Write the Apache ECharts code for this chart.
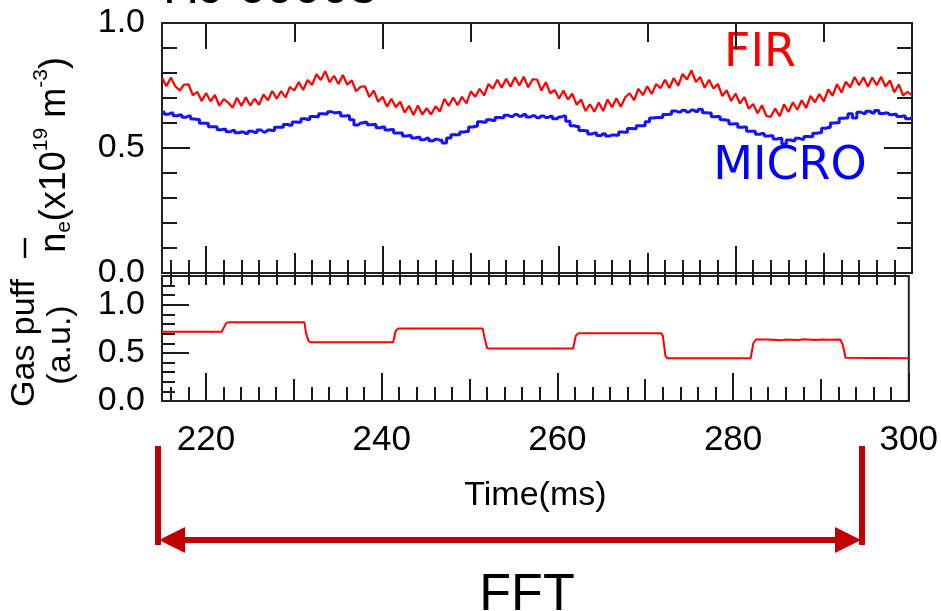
<!DOCTYPE html>
<html><head><meta charset="utf-8">
<script src="https://cdn.jsdelivr.net/npm/echarts@6/dist/echarts.min.js"></script>
<style>html,body{margin:0;padding:0;background:#fff}#c{width:941px;height:611px}</style>
</head><body><div id="c"></div>
<script>
// ---- data ----
const T0 = 215, DT = 0.5;           // sampling of the density traces (ms)
const FIR = [
.782,.747,.782,.747,.730,.753,.755,.711,.725,.688,
.720,.687,.712,.669,.696,.682,.661,.701,.668,.703,
.670,.697,.673,.714,.691,.728,.697,.728,.702,.744,
.730,.764,.732,.772,.752,.795,.772,.807,.763,.789,
.756,.792,.753,.771,.727,.745,.747,.704,.730,.685,
.705,.665,.697,.663,.685,.642,.669,.632,.670,.634,
.659,.634,.667,.646,.697,.668,.702,.671,.705,.678,
.727,.705,.737,.710,.756,.737,.773,.741,.777,.745,
.784,.750,.785,.743,.775,.774,.730,.763,.719,.732,
.698,.730,.694,.717,.673,.694,.648,.675,.645,.682,
.648,.694,.663,.699,.665,.703,.719,.691,.737,.711,
.747,.716,.756,.739,.773,.740,.780,.749,.796,.774,
.810,.764,.784,.741,.773,.738,.756,.708,.731,.688,
.718,.678,.704,.657,.676,.639,.671,.628,.625,.658,
.627,.674,.644,.683,.653,.691,.660,.708,.683,.716,
.686,.734,.709,.755,.722,.765,.743,.784,.751,.783,
.745,.782,.751,.785,.746,.770,.723,.754,.710,.725,
.710];
const MICRO = [
.644,.635,.640,.629,.632,.623,.628,.616,.614,.599,
.599,.585,.585,.573,.575,.565,.570,.561,.564,.558,
.567,.562,.572,.564,.572,.570,.583,.583,.594,.591,
.604,.603,.617,.614,.626,.625,.637,.636,.645,.641,
.642,.628,.629,.613,.592,.600,.603,.593,.594,.581,
.584,.572,.574,.560,.560,.548,.550,.540,.543,.533,
.539,.529,.535,.531,.520,.540,.553,.553,.564,.566,
.584,.587,.605,.603,.613,.610,.622,.621,.631,.626,
.634,.627,.634,.624,.629,.621,.628,.622,.627,.617,
.624,.628,.607,.589,.586,.570,.569,.556,.560,.550,
.557,.548,.552,.551,.564,.563,.578,.577,.589,.589,
.605,.620,.622,.622,.634,.635,.648,.644,.651,.644,
.652,.646,.655,.641,.640,.625,.626,.613,.611,.596,
.597,.583,.584,.567,.567,.555,.558,.548,.549,.536,
.539,.516,.532,.529,.539,.535,.546,.545,.559,.561,
.579,.582,.600,.601,.619,.620,.637,.620,.643,.638,
.647,.640,.650,.638,.640,.633,.635,.626,.628,.617,
.622];
const gasTime  = [215, 221.8, 222.3, 222.6, 228.9, 229.1, 229.3, 231.2, 231.4, 231.7, 232.0, 241.3, 241.6, 241.9, 251.5, 251.7, 252.0, 252.3, 261.8, 262.1, 262.4, 271.8, 272.0, 272.3, 272.5, 282.0, 282.3, 282.6, 284.0, 285.5, 286.0, 287.5, 288.0, 289.5, 290.0, 291.0, 292.2, 292.5, 292.8, 293.0, 300];
const gasValue = [0.72, 0.72, 0.81, 0.82, 0.82, 0.805, 0.82, 0.82, 0.70, 0.62, 0.61, 0.61, 0.73, 0.755, 0.755, 0.66, 0.55, 0.545, 0.545, 0.68, 0.705, 0.705, 0.68, 0.47, 0.445, 0.445, 0.60, 0.64, 0.64, 0.633, 0.64, 0.635, 0.641, 0.634, 0.64, 0.636, 0.64, 0.58, 0.45, 0.445, 0.445];

const xMajorTicks = [220, 240, 260, 280, 300];
const xMidTicks   = [230, 250, 270, 290];
const xMinorTicks = [216,218,220,222,224,226,228,230,232,234,236,238,240,242,244,246,248,250,252,254,256,258,260,262,264,266,268,270,272,274,276,278,280,282,284,286,288,290,292,294,296,298];
const xLabels     = [220, 240, 260, 280, 300];
const nMinorTicks = [0.1,0.2,0.3,0.4,0.6,0.7,0.8,0.9];
const nMajorTicks = [0.5];
const nLabels     = [0, 0.5, 1.0];
const gMinorTicks = [0.1,0.2,0.3,0.4,0.6,0.7,0.8,0.9,1.1,1.2];
const gMajorTicks = [0.5, 1.0];
const gLabels     = [0, 0.5, 1.0];

// ---- chart ----
const FONT = '"Liberation Sans Narrow","Liberation Sans",Arial,sans-serif';
const chart = echarts.init(document.getElementById('c'), null, {renderer: 'canvas'});
const tickColor = '#1a1a1a';

function xAx(grid, pos, ticks, len, labels, extra) {
  const a = {
    type: 'value', gridIndex: grid, position: pos, min: 215, max: 300,
    axisLine: {show: false}, splitLine: {show: false},
    axisTick: {show: true, inside: true, length: len, customValues: ticks, lineStyle: {color: tickColor, width: 2}},
    axisLabel: labels ? {show: true, customValues: labels, margin: 22, fontSize: 35, fontFamily: FONT, color: '#000'} : {show: false}
  };
  return Object.assign(a, extra || {});
}
function yAx(grid, pos, min, max, ticks, len, labels) {
  return {
    type: 'value', gridIndex: grid, position: pos, min: min, max: max,
    axisLine: {show: false}, splitLine: {show: false},
    axisTick: {show: true, inside: true, length: len, customValues: ticks, lineStyle: {color: tickColor, width: 2}},
    axisLabel: labels ? {show: true, customValues: labels, margin: 17, fontSize: 34, fontFamily: FONT, color: '#000',
      formatter: v => Number(v).toFixed(1)} : {show: false}
  };
}

const times = FIR.map((_, i) => T0 + DT * i);

const option = {
  animation: false,
  backgroundColor: '#fff',
  grid: [
    {left: 162, top: 23, width: 750, height: 250, show: true, borderColor: '#222', borderWidth: 2, backgroundColor: 'transparent'},
    {left: 162, top: 276, width: 750, height: 125, show: true, borderColor: '#222', borderWidth: 2, backgroundColor: 'transparent'}
  ],
  xAxis: [
    xAx(0, 'bottom', xMinorTicks, 13),
    xAx(0, 'bottom', xMidTicks, 20),
    xAx(0, 'bottom', xMajorTicks, 27),
    xAx(0, 'top', xMinorTicks, 12),
    xAx(0, 'top', xMidTicks, 19),
    xAx(0, 'top', xMajorTicks, 26),
    xAx(1, 'bottom', xMinorTicks, 14, xLabels, {
      name: 'Time(ms)', nameLocation: 'middle', nameGap: 78,
      nameTextStyle: {fontSize: 34, fontFamily: FONT, color: '#000', verticalAlign: 'top'}
    }),
    xAx(1, 'bottom', xMidTicks, 22),
    xAx(1, 'bottom', xMajorTicks, 28)
  ],
  yAxis: [
    yAx(0, 'left', 0, 1, nMinorTicks, 15, nLabels),
    yAx(0, 'left', 0, 1, nMajorTicks, 28),
    yAx(0, 'right', 0, 1, nMinorTicks, 15),
    yAx(0, 'right', 0, 1, nMajorTicks, 28),
    yAx(1, 'left', 0, 1.3, gMinorTicks, 13, gLabels),
    yAx(1, 'left', 0, 1.3, gMajorTicks, 27)
  ],
  series: [
    {name: 'FIR', type: 'line', xAxisIndex: 0, yAxisIndex: 0, showSymbol: false, z: 3,
     lineStyle: {color: '#ff0000', width: 2.2}, data: times.map((t, i) => [t, FIR[i]])},
    {name: 'MICRO', type: 'line', xAxisIndex: 0, yAxisIndex: 0, showSymbol: false, z: 2, step: 'middle',
     lineStyle: {color: '#1414ff', width: 3}, data: times.map((t, i) => [t, MICRO[i]])},
    {name: 'Gas puff', type: 'line', xAxisIndex: 6, yAxisIndex: 4, showSymbol: false,
     lineStyle: {color: '#ff0000', width: 2}, data: gasTime.map((t, i) => [t, gasValue[i]])}
  ],
  graphic: [
    {type: 'text', left: 163, top: -36, style: {text: 'HJ 60003', font: '50px "Liberation Sans", Arial, sans-serif', fill: '#000'}},
    {type: 'text', x: 760, y: 54, style: {text: 'FIR', font: '46px "DejaVu Sans", Verdana, sans-serif', fill: '#ff0000', align: 'center', verticalAlign: 'middle'}},
    {type: 'text', x: 790, y: 167, style: {text: 'MICRO', font: '46px "DejaVu Sans", Verdana, sans-serif', fill: '#0000ff', align: 'center', verticalAlign: 'middle'}},
    // y-axis title of the density panel (rotated)
    {type: 'text', x: 55, y: 155, rotation: Math.PI / 2,
     style: {
       text: '{a|n}{e|e}{a|(x10}{s|19}{a| m}{s|-3}{a|)}',
       align: 'center', verticalAlign: 'middle', fill: '#000',
       rich: {
         a: {fontSize: 36, fontFamily: 'Liberation Sans, Arial, sans-serif', lineHeight: 48, verticalAlign: 'middle'},
         e: {fontSize: 21, fontFamily: 'Liberation Sans, Arial, sans-serif', lineHeight: 48, verticalAlign: 'bottom', padding: [0, 0, 4, 0]},
         s: {fontSize: 21, fontFamily: 'Liberation Sans, Arial, sans-serif', lineHeight: 48, verticalAlign: 'top'}
       }
     }},
    {type: 'line', shape: {x1: 25, y1: 238, x2: 25, y2: 258}, style: {stroke: '#000', lineWidth: 2.5}},
    // gas puff title
    {type: 'text', x: 25, y: 343, rotation: Math.PI / 2,
     style: {text: 'Gas puff', font: '34px "Liberation Sans", Arial, sans-serif', fill: '#000', align: 'center', verticalAlign: 'middle'}},
    {type: 'text', x: 61, y: 345, rotation: Math.PI / 2,
     style: {text: '(a.u.)', font: '34px "Liberation Sans", Arial, sans-serif', fill: '#000', align: 'center', verticalAlign: 'middle'}},
    // FFT range arrow
    {type: 'line', shape: {x1: 158, y1: 446, x2: 158, y2: 545}, style: {stroke: '#c00000', lineWidth: 6}},
    {type: 'line', shape: {x1: 862, y1: 446, x2: 862, y2: 545}, style: {stroke: '#c00000', lineWidth: 6}},
    {type: 'line', shape: {x1: 175, y1: 540, x2: 845, y2: 540}, style: {stroke: '#c00000', lineWidth: 6}},
    {type: 'polygon', shape: {points: [[159, 540], [185, 527], [185, 553]]}, style: {fill: '#c00000'}},
    {type: 'polygon', shape: {points: [[861, 540], [835, 527], [835, 553]]}, style: {fill: '#c00000'}},
    {type: 'text', x: 527, y: 596, style: {text: 'FFT', font: '52px ' + FONT, fill: '#000', align: 'center', verticalAlign: 'middle'}}
  ]
};
chart.setOption(option);
</script></body></html>
